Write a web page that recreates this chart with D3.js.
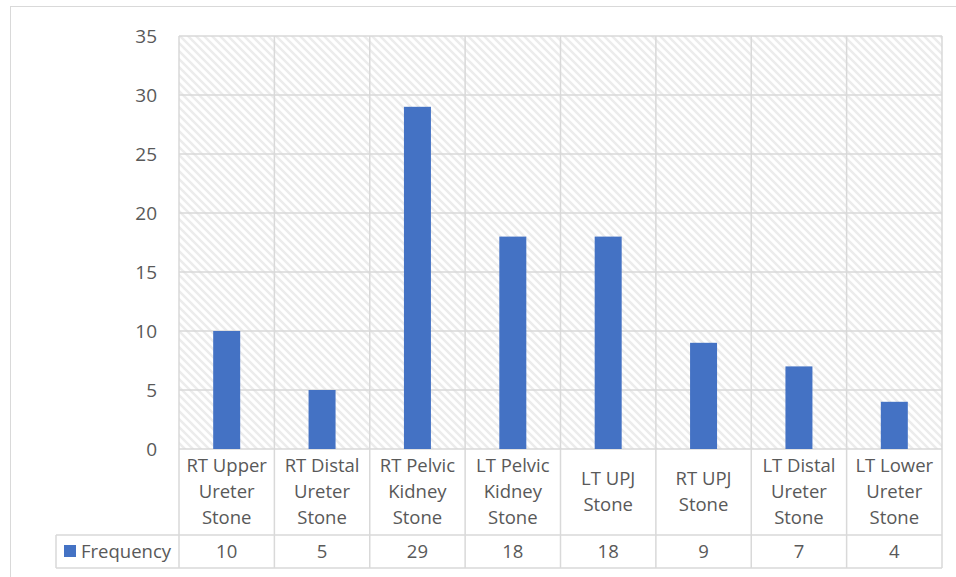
<!DOCTYPE html>
<html>
<head>
<meta charset="utf-8">
<script src="https://cdn.jsdelivr.net/npm/d3@7"></script>
<style>
  html, body { margin: 0; padding: 0; background: #fff; }
  svg { display: block; }
  text { font-family: "Open Sans", "Noto Sans", sans-serif; fill: #595959; }
</style>
</head>
<body>
<svg id="chart" width="956" height="577"></svg>
<script>
// Stone location categories (each split into wrapped lines)
const categories = [
  ["RT Upper", "Ureter", "Stone"],
  ["RT Distal", "Ureter", "Stone"],
  ["RT Pelvic", "Kidney", "Stone"],
  ["LT Pelvic", "Kidney", "Stone"],
  ["LT UPJ", "Stone"],
  ["RT UPJ", "Stone"],
  ["LT Distal", "Ureter", "Stone"],
  ["LT Lower", "Ureter", "Stone"]
];
const frequency = [10, 5, 29, 18, 18, 9, 7, 4];
const yTicks = [0, 5, 10, 15, 20, 25, 30, 35];
const seriesName = "Frequency";

const svg = d3.select("#chart");
const grid = "#d9d9d9";

const plot = { left: 179, right: 942, top: 36, bottom: 449 };
const tableRowTop = 535, tableBottom = 568, legendLeft = 56;

const x = d3.scaleBand()
  .domain(d3.range(categories.length))
  .range([plot.left, plot.right]);
const y = d3.scaleLinear().domain([0, 35]).range([plot.bottom, plot.top]);

// Outer chart frame
svg.append("rect")
  .attr("x", 10.5).attr("y", 6.5)
  .attr("width", 960).attr("height", 600)
  .attr("fill", "none").attr("stroke", grid).attr("stroke-width", 1);

// Diagonal hatch for the plot background
const defs = svg.append("defs");
const pat = defs.append("pattern")
  .attr("id", "hatch")
  .attr("patternUnits", "userSpaceOnUse")
  .attr("width", 8).attr("height", 8);
pat.append("rect").attr("width", 8).attr("height", 8).attr("fill", "#fff");
pat.append("path")
  .attr("d", "M-2,-2 L10,10 M-2,6 L2,10 M6,-2 L10,2")
  .attr("stroke", "#ececec").attr("stroke-width", 2.4);

svg.append("rect")
  .attr("x", plot.left).attr("y", plot.top)
  .attr("width", plot.right - plot.left).attr("height", plot.bottom - plot.top)
  .attr("fill", "url(#hatch)");

// Horizontal gridlines
svg.append("g").selectAll("line").data(yTicks).join("line")
  .attr("x1", plot.left).attr("x2", plot.right)
  .attr("y1", d => y(d)).attr("y2", d => y(d))
  .attr("stroke", grid).attr("stroke-width", 1.5);

// Vertical column separators through plot and table
const bounds = d3.range(categories.length + 1).map(i =>
  i < categories.length ? x(i) : x(categories.length - 1) + x.bandwidth());
svg.append("g").selectAll("line").data(bounds).join("line")
  .attr("x1", d => d).attr("x2", d => d)
  .attr("y1", plot.top).attr("y2", tableBottom)
  .attr("stroke", grid).attr("stroke-width", 1.5);

// Y axis labels
const yAxis = d3.axisLeft(y).tickValues(yTicks).tickSize(0).tickPadding(0);
const yg = svg.append("g").attr("transform", `translate(157,0)`).call(yAxis);
yg.select(".domain").remove();
yg.selectAll("text")
  .attr("font-size", 19)
  .style("font-family", '"Open Sans", "Noto Sans", sans-serif')
  .attr("fill", "#595959");

// Bars
const barW = 27;
svg.append("g").selectAll("rect").data(frequency).join("rect")
  .attr("x", (d, i) => x(i) + x.bandwidth() / 2 - barW / 2)
  .attr("y", d => y(d))
  .attr("width", barW)
  .attr("height", d => y(0) - y(d))
  .attr("fill", "#4472c4");

// Data table: row lines
svg.append("line")
  .attr("x1", legendLeft).attr("x2", plot.right)
  .attr("y1", tableRowTop).attr("y2", tableRowTop)
  .attr("stroke", grid).attr("stroke-width", 1.5);
svg.append("line")
  .attr("x1", legendLeft).attr("x2", plot.right)
  .attr("y1", tableBottom).attr("y2", tableBottom)
  .attr("stroke", grid).attr("stroke-width", 1.5);
svg.append("line")
  .attr("x1", legendLeft).attr("x2", legendLeft)
  .attr("y1", tableRowTop).attr("y2", tableBottom)
  .attr("stroke", grid).attr("stroke-width", 1.5);

// Category labels
const lineH = 26;
const catG = svg.append("g").selectAll("text").data(categories).join("text")
  .attr("text-anchor", "middle")
  .attr("font-size", 18.5);
catG.each(function(lines, i) {
  const cx = x(i) + x.bandwidth() / 2;
  const midY = (plot.bottom + tableRowTop) / 2;
  const startY = midY - (lines.length - 1) * lineH / 2;
  d3.select(this).selectAll("tspan").data(lines).join("tspan")
    .attr("x", cx)
    .attr("y", (d, k) => startY + k * lineH)
    .attr("dy", "0.35em")
    .text(d => d);
});

// Values row
svg.append("g").selectAll("text").data(frequency).join("text")
  .attr("x", (d, i) => x(i) + x.bandwidth() / 2)
  .attr("y", (tableRowTop + tableBottom) / 2)
  .attr("dy", "0.35em")
  .attr("text-anchor", "middle")
  .attr("font-size", 18.5)
  .text(d => d);

// Legend key in the table
svg.append("rect")
  .attr("x", 64).attr("y", 545).attr("width", 12).attr("height", 12)
  .attr("fill", "#4472c4");
svg.append("text")
  .attr("x", 81).attr("y", (tableRowTop + tableBottom) / 2)
  .attr("dy", "0.35em")
  .attr("font-size", 18.5)
  .text(seriesName);
</script>
</body>
</html>
